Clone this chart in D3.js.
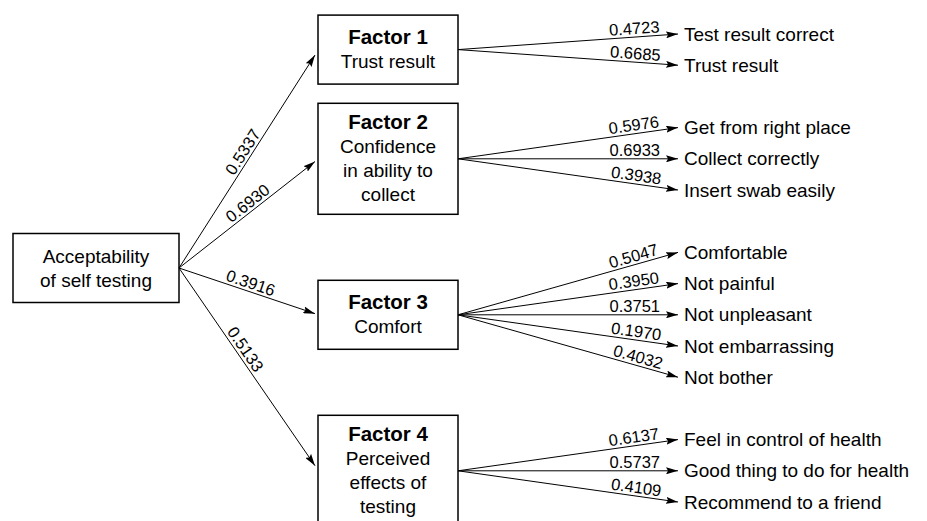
<!DOCTYPE html>
<html>
<head>
<meta charset="utf-8">
<script src="https://cdn.jsdelivr.net/npm/d3@7"></script>
<style>
  body { margin: 0; background: #fff; }
  svg { display: block; font-family: "Liberation Sans", Arial, sans-serif; }
</style>
</head>
<body>
<div id="chart"></div>
<script>
// root construct
const rootLines = ['Acceptability', 'of self testing'];

// factors
const factorTitles = ['Factor 1', 'Factor 2', 'Factor 3', 'Factor 4'];
const factorText = [
  ['Trust result'],
  ['Confidence', 'in ability to', 'collect'],
  ['Comfort'],
  ['Perceived', 'effects of', 'testing']
];
const factorLoadings = [0.5337, 0.6930, 0.3916, 0.5133];

// observed items
const itemLabels = [
  'Test result correct', 'Trust result',
  'Get from right place', 'Collect correctly', 'Insert swab easily',
  'Comfortable', 'Not painful', 'Not unpleasant', 'Not embarrassing', 'Not bother',
  'Feel in control of health', 'Good thing to do for health', 'Recommend to a friend'
];
const itemFactor = [0, 0, 1, 1, 1, 2, 2, 2, 2, 2, 3, 3, 3];
const itemLoadings = [0.4723, 0.6685, 0.5976, 0.6933, 0.3938, 0.5047, 0.3950, 0.3751, 0.1970, 0.4032, 0.6137, 0.5737, 0.4109];

const width = 927, height = 521;
const fmt = d3.format('.4f');
const lineH = 24;
const valSize = 16.5;

const svg = d3.select('#chart')
  .append('svg')
  .attr('width', width)
  .attr('height', height);

// arrow head
svg.append('defs').append('marker')
  .attr('id', 'arrow')
  .attr('markerUnits', 'userSpaceOnUse')
  .attr('viewBox', '0 0 12 7')
  .attr('markerWidth', 12)
  .attr('markerHeight', 7)
  .attr('refX', 12)
  .attr('refY', 3.5)
  .attr('orient', 'auto')
  .append('path')
  .attr('d', 'M0,0 L12,3.5 L0,7 L2,3.5 Z')
  .attr('fill', '#000');

// slot index: one empty slot between groups
const slots = itemFactor.map((f, i) => i + f);
const nSlots = d3.max(slots);
const y = d3.scaleLinear().domain([0, nSlots]).range([34, 502]);

// column positions
const x = d3.scaleOrdinal()
  .domain(['rootL', 'rootR', 'facL', 'facR', 'item'])
  .range([13, 179, 318, 458, 684]);

const rootY = y(nSlots / 2);

const factors = factorTitles.map((t, i) => {
  const s = slots.filter((d, j) => itemFactor[j] === i);
  const cy = d3.mean(s, d => y(d));
  const n = factorText[i].length + 1;
  return { title: t, lines: factorText[i], loading: factorLoadings[i], cy: cy, h: 27 + 21 * n };
});

function boxText(g, lines, cx, cy, boldFirst) {
  const first = cy - (lines.length - 1) * lineH / 2 + 6.5;
  g.selectAll(null)
    .data(lines)
    .enter()
    .append('text')
    .attr('x', cx)
    .attr('y', (d, i) => first + i * lineH)
    .attr('text-anchor', 'middle')
    .style('font-size', (d, i) => (boldFirst && i === 0) ? '20.5px' : '19px')
    .style('font-weight', (d, i) => (boldFirst && i === 0) ? 700 : 400)
    .text(d => d);
}

// root box
const root = svg.append('g');
root.append('rect')
  .attr('x', x('rootL'))
  .attr('y', rootY - 34.5)
  .attr('width', x('rootR') - x('rootL'))
  .attr('height', 69)
  .attr('fill', '#fff')
  .attr('stroke', '#000')
  .attr('stroke-width', 1.5);
boxText(root, rootLines, (x('rootL') + x('rootR')) / 2, rootY, false);

// factor boxes
factors.forEach(f => {
  const g = svg.append('g');
  g.append('rect')
    .attr('x', x('facL'))
    .attr('y', f.cy - f.h / 2)
    .attr('width', x('facR') - x('facL'))
    .attr('height', f.h)
    .attr('fill', '#fff')
    .attr('stroke', '#000')
    .attr('stroke-width', 1.5);
  boxText(g, [f.title].concat(f.lines), (x('facL') + x('facR')) / 2, f.cy, true);
});

function edge(x1, y1, x2, y2, value, labelX, anchor) {
  svg.append('line')
    .attr('x1', x1).attr('y1', y1)
    .attr('x2', x2).attr('y2', y2)
    .attr('stroke', '#000')
    .attr('stroke-width', 1)
    .attr('marker-end', 'url(#arrow)');
  const a = Math.atan2(y2 - y1, x2 - x1);
  // keep the rotated label's left edge near labelX
  let lx = labelX;
  if (anchor === 'start') lx = labelX - Math.min(0, Math.sin(a)) * (3 + valSize * 0.72);
  const t = (lx - x1) / (x2 - x1);
  const px = x1 + t * (x2 - x1), py = y1 + t * (y2 - y1);
  svg.append('text')
    .attr('transform', 'translate(' + px + ',' + py + ') rotate(' + (a * 180 / Math.PI) + ')')
    .attr('y', -3)
    .attr('text-anchor', anchor)
    .style('font-size', valSize + 'px')
    .text(fmt(value));
}

// root -> factor
factors.forEach(f => {
  const ty = f.cy + (rootY - f.cy) * 0.025;
  edge(x('rootR'), rootY, x('facL') - 3, ty, f.loading, 224, 'start');
});

// factor -> item
itemLabels.forEach((lab, i) => {
  const f = factors[itemFactor[i]];
  const iy = y(slots[i]);
  edge(x('facR'), f.cy, x('item') - 6, iy, itemLoadings[i], 660, 'end');
  svg.append('text')
    .attr('x', x('item'))
    .attr('y', iy + 6.5)
    .style('font-size', '19px')
    .text(lab);
});
</script>
</body>
</html>
